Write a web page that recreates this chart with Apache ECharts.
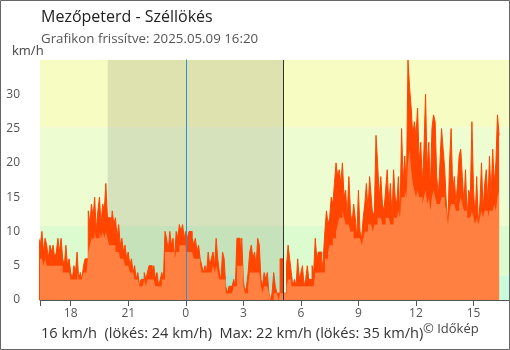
<!DOCTYPE html>
<html>
<head>
<meta charset="utf-8">
<script src="https://cdn.jsdelivr.net/npm/echarts@6/dist/echarts.min.js"></script>
<style>
  html, body { margin: 0; padding: 0; background: #fff; }
  #chart { width: 510px; height: 350px; }
</style>
</head>
<body>
<div id="chart"></div>
<script>
// Mezőpeterd wind record, 5-minute samples from 16:20 (previous day) to 16:20.
// Time is kept in hours relative to midnight (negative = previous evening).
const startHour = -(7 + 40 / 60);   // 16:20
const stepHours = 5 / 60;

// Gusts, km/h
const gust = [
  9, 8, 10, 7, 9, 8, 6, 8,                      // 16:20-16:55
  7, 8, 6, 7, 9, 7, 9, 6, 5, 8, 5, 6,           // 17
  4, 3, 5, 4, 7, 3, 4, 3, 5, 6, 6, 13,          // 18
  11, 14, 12, 15, 10, 13, 15, 11, 14, 13, 17, 12, // 19
  12, 10, 13, 11, 12, 9, 11, 8, 9, 7, 8, 6,     // 20
  7, 5, 6, 4, 5, 3, 4, 2, 3, 3, 4, 3,           // 21
  4, 5, 5, 4, 5, 3, 4, 2, 3, 4, 3, 10,          // 22
  9, 7, 10, 8, 9, 6, 10, 9, 11, 10, 11, 9,      // 23
  10, 9, 10, 10, 9, 8, 9, 7, 8, 6, 5, 4,        // 0
  5, 4, 7, 5, 6, 7, 5, 9, 6, 4, 3, 7,           // 1
  6, 2, 1, 2, 2, 2, 3, 2, 9, 9, 7, 9,           // 2
  3, 1, 2, 4, 7, 8, 6, 7, 5, 9, 8, 3,           // 3
  2, 4, 3, 4, 1, 0, 1, 4, 2, 1, 1, 6,           // 4
  6, 1, 1, 5, 8, 6, 4, 2, 3, 2, 6, 3,           // 5
  4, 5, 2, 3, 5, 3, 3, 5, 4, 9, 6, 7,           // 6
  7, 4, 6, 10, 13, 11, 12, 15, 14, 17, 20, 18,  // 7
  19, 17, 20, 15, 16, 12, 18, 13, 11, 14, 12, 9, // 8
  16, 10, 9, 12, 14, 17, 13, 18, 15, 12, 13, 24, // 9
  20, 15, 18, 14, 13, 16, 19, 14, 17, 12, 19, 15, // 10
  14, 18, 12, 25, 17, 21, 16, 35, 31, 28, 24, 26, // 11
  24, 28, 20, 23, 17, 22, 30, 19, 23, 16, 25, 27, // 12
  26, 18, 15, 20, 25, 22, 19, 14, 11, 20, 25, 16, // 13
  18, 14, 17, 21, 22, 18, 14, 19, 12, 16, 15, 26, // 14
  16, 12, 18, 11, 14, 20, 13, 17, 19, 14, 21, 15, // 15
  22, 17, 20, 27, 24                            // 16:00-16:20
];

// Average wind speed, km/h
const mean = [
  6, 6, 6, 5, 6, 5, 5, 5,
  5, 5, 5, 5, 5, 5, 5, 4, 4, 4, 4, 4,
  3, 3, 3, 3, 4, 3, 3, 3, 4, 4, 4, 7,
  8, 9, 9, 10, 9, 9, 10, 9, 10, 9, 10, 9,
  8, 8, 8, 8, 7, 7, 7, 6, 6, 6, 5, 5,
  5, 4, 4, 4, 3, 3, 3, 2, 2, 2, 3, 2,
  3, 3, 3, 3, 3, 2, 2, 2, 2, 3, 3, 7,
  7, 7, 7, 7, 7, 6, 7, 7, 8, 8, 8, 8,
  7, 7, 7, 7, 7, 6, 6, 6, 6, 5, 4, 4,
  4, 4, 4, 4, 4, 5, 4, 5, 4, 3, 3, 3,
  3, 1, 1, 1, 1, 1, 2, 2, 5, 5, 5, 5,
  2, 1, 1, 2, 4, 4, 4, 4, 4, 4, 4, 2,
  1, 2, 2, 2, 1, 0, 0, 1, 1, 1, 0, 1,
  1, 1, 1, 2, 3, 3, 2, 2, 2, 2, 2, 2,
  2, 2, 2, 2, 2, 2, 2, 2, 2, 4, 4, 4,
  4, 4, 4, 6, 6, 7, 8, 8, 9, 9, 10, 11,
  12, 12, 13, 12, 11, 11, 11, 10, 10, 9, 9, 9,
  9, 9, 8, 9, 10, 10, 11, 11, 11, 10, 11, 11,
  12, 12, 12, 11, 11, 12, 12, 12, 11, 11, 12, 12,
  12, 13, 12, 15, 15, 16, 15, 20, 22, 19, 17, 16,
  15, 16, 15, 15, 14, 15, 16, 14, 15, 13, 15, 16,
  15, 14, 14, 14, 15, 15, 14, 13, 11, 13, 14, 14,
  14, 13, 13, 14, 15, 14, 13, 13, 12, 12, 12, 13,
  12, 11, 12, 11, 12, 13, 12, 13, 13, 12, 13, 13,
  13, 14, 13, 15, 16
];

// Hour ticks along the bottom axis
const hourTicks = [-6, -3, 0, 3, 6, 9, 12, 15];
const yTicks = [0, 5, 10, 15, 20, 25, 30];

// Wind-strength bands (km/h): 1, 3 and 7 m/s boundaries
const bandEdges = [0, 3.6, 10.8, 25.2, 35];
const bandColors = ['#c9fcdc', '#dcfcd0', '#eefcd2', '#f6fcc2'];

// Night (sunset to sunrise), hours relative to midnight
const nightStart = -4.07;
const sunrise = 5.08;

const gustPts = gust.map((v, i) => [startHour + i * stepHours, v]);
const meanPts = mean.map((v, i) => [startHour + i * stepHours, v]);

const fmtHour = v => String(((Math.round(v) % 24) + 24) % 24);

const chart = echarts.init(document.getElementById('chart'), null, { renderer: 'canvas' });
const font = '"Open Sans", "Noto Sans", sans-serif';

chart.setOption({
  animation: false,
  backgroundColor: '#ffffff',
  textStyle: { fontFamily: font },
  grid: { left: 40, right: 1, top: 60, bottom: 50 },
  xAxis: {
    type: 'value',
    min: -7.6,
    max: 16.85,
    axisLine: { lineStyle: { color: '#555', width: 1 } },
    axisTick: { length: 6, lineStyle: { color: '#555' }, customValues: [-7.6].concat(hourTicks) },
    axisLabel: { customValues: hourTicks, formatter: fmtHour, color: '#555', fontSize: 12, margin: 8, fontFamily: font },
    splitLine: { show: false }
  },
  yAxis: [{
    type: 'value',
    min: 0, max: 35, interval: 5,
    axisLine: { show: true, lineStyle: { color: '#555' } },
    axisTick: { show: true, length: 5, lineStyle: { color: '#555' }, customValues: yTicks },
    axisLabel: { customValues: yTicks, color: '#555', fontSize: 12, margin: 20, fontFamily: font },
    splitLine: { show: false }
  }, {
    type: 'value',
    position: 'left',
    min: 0, max: 35, interval: 5,
    axisLine: { show: false },
    axisTick: { show: true, inside: true, length: 6, lineStyle: { color: '#555' }, customValues: yTicks },
    axisLabel: { show: false },
    splitLine: { show: false }
  }],
  series: [
    {
      // background: wind bands, night shading, midnight and sunrise lines
      type: 'line',
      data: [],
      z: 1,
      silent: true,
      markArea: {
        silent: true,
        data: bandEdges.slice(0, -1).map((lo, i) => [
          { yAxis: lo, itemStyle: { color: bandColors[i] } },
          { yAxis: bandEdges[i + 1] }
        ]).concat([[
          { xAxis: nightStart, itemStyle: { color: 'rgba(0,0,0,0.1)' } },
          { xAxis: sunrise }
        ]])
      },
      markLine: {
        silent: true,
        symbol: 'none',
        label: { show: false },
        data: [
          { xAxis: 0, lineStyle: { color: '#2a8fdc', width: 1, type: 'solid' } },
          { xAxis: sunrise, lineStyle: { color: '#333', width: 1, type: 'solid' } }
        ]
      }
    },
    {
      name: 'Széllökés',
      type: 'line',
      step: 'end',
      data: gustPts,
      showSymbol: false,
      z: 3,
      lineStyle: { color: '#ff4500', width: 1 },
      areaStyle: { color: '#ff4500', opacity: 1 }
    },
    {
      name: 'Szélsebesség',
      type: 'line',
      step: 'end',
      data: meanPts,
      showSymbol: false,
      z: 4,
      lineStyle: { width: 0, color: '#ff8040' },
      areaStyle: { color: '#ff8040', opacity: 1 }
    }
  ],
  graphic: [
    { type: 'text', left: 41, top: 9.5, style: { text: 'Mezőpeterd - Széllökés', font: '16px ' + font, fill: '#222' } },
    { type: 'text', left: 41, top: 33, style: { text: 'Grafikon frissítve: 2025.05.09 16:20', font: '13.3px ' + font, fill: '#555' } },
    { type: 'text', left: 12, top: 45, style: { text: 'km/h', font: '13px ' + font, fill: '#444' } },
    { type: 'text', left: 41, top: 326, style: { text: '16 km/h  (lökés: 24 km/h)  Max: 22 km/h (lökés: 35 km/h)', font: '14.6px ' + font, fill: '#333' } },
    { type: 'text', left: 423, top: 323, style: { text: '© Időkép', font: '13px ' + font, fill: '#444' } },
    { type: 'rect', shape: { x: 0.5, y: 0.5, width: 509, height: 349 }, style: { fill: 'none', stroke: '#666', lineWidth: 1 }, z: 100 }
  ]
});
</script>
</body>
</html>
